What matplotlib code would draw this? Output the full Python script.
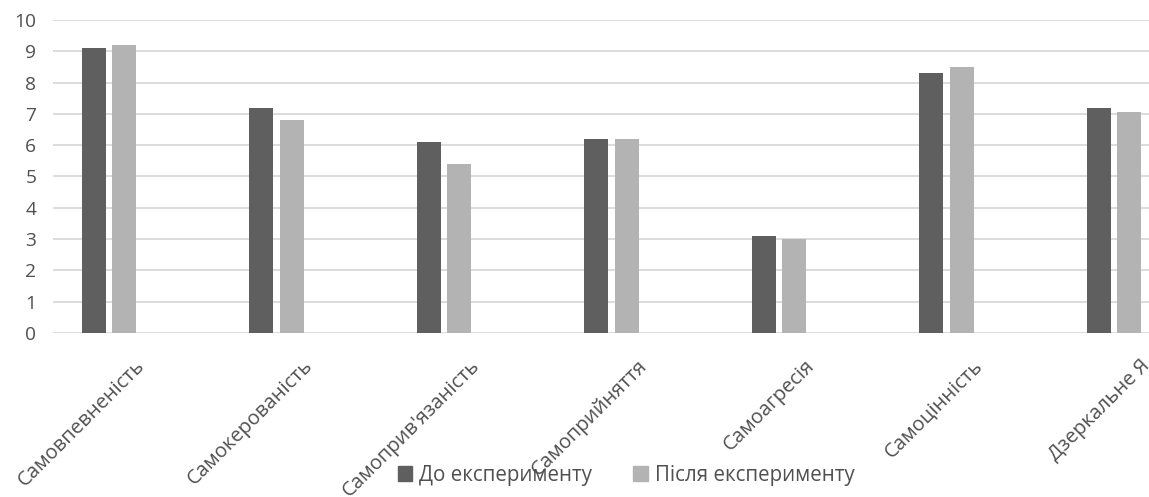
import numpy as np
import matplotlib
matplotlib.use('Agg')
import matplotlib.pyplot as plt
import matplotlib.transforms as mtransforms
from matplotlib.patches import Patch

plt.rcParams['font.family'] = ['Open Sans', 'DejaVu Sans']

categories = ['Самовпевненість', 'Самокерованість', "Самоприв'язаність",
              'Самоприйняття', 'Самоагресія', 'Самоцінність', 'Дзеркальне Я']
before = [9.1, 7.2, 6.1, 6.2, 3.1, 8.3, 7.2]
after = [9.2, 6.8, 5.4, 6.2, 3.0, 8.5, 7.05]
series_names = ['До експерименту', 'Після експерименту']

dark = '#5f5f5f'
light = '#b3b3b3'
text_col = '#505050'
grid_col = '#d9d9d9'

fig = plt.figure(figsize=(11.49, 4.97), dpi=100)
ax = fig.add_axes([0.0461, 0.33, 0.9539, 0.6298])

x = np.arange(len(categories))
w = 0.143
off = 0.091
ax.bar(x - off, before, w, color=dark, zorder=3)
ax.bar(x + off, after, w, color=light, zorder=3)

ax.set_ylim(0, 10)
ax.set_xlim(-0.334, 6.209)
ax.set_yticks(range(0, 11))
ax.yaxis.grid(True, color=grid_col, linewidth=1.3, zorder=0)
for s in ax.spines.values():
    s.set_visible(False)
ax.tick_params(axis='both', length=0, colors=text_col)
ax.tick_params(axis='y', pad=12, labelsize=13.8)
ax.tick_params(axis='x', labelsize=14.5)

ax.set_xticks(x)
ax.set_xticklabels(categories, rotation=45, ha='right', va='center',
                   rotation_mode='anchor')
shift = mtransforms.ScaledTranslation(33 / 100, -25 / 100, fig.dpi_scale_trans)
for lbl in ax.get_xticklabels():
    lbl.set_transform(lbl.get_transform() + shift)

handles = [Patch(color=dark), Patch(color=light)]
leg = fig.legend(handles, series_names, loc='center', bbox_to_anchor=(0.545, 0.044),
                 ncol=2, frameon=False, fontsize=14.8, handlelength=0.7,
                 handleheight=0.7, handletextpad=0.35, columnspacing=2.0,
                 labelcolor=text_col)

fig.savefig('out.png', dpi=100, facecolor='white')
